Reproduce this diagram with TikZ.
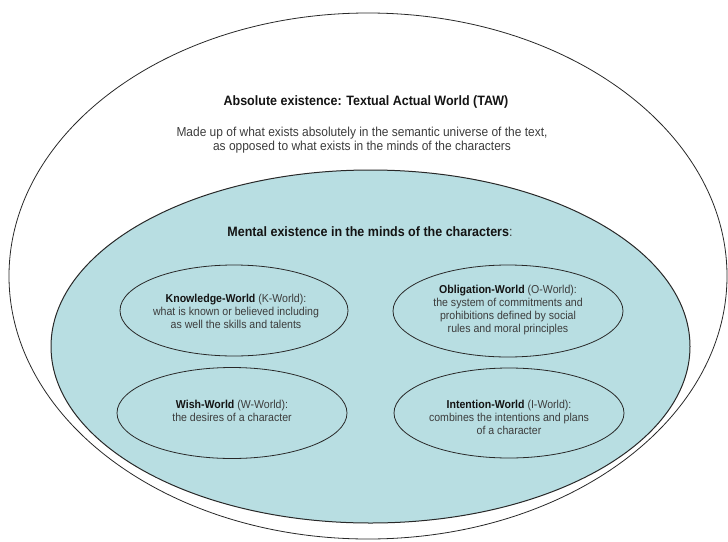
\documentclass[tikz,border=0pt]{standalone}
\usepackage{fontspec}
\setmainfont{Liberation Sans}[FakeStretch=0.92]
\usetikzlibrary{shapes.geometric}
\definecolor{tealfill}{RGB}{184,222,226}
\definecolor{edge}{RGB}{40,40,40}
\definecolor{bodytxt}{RGB}{60,60,60}
\definecolor{headtxt}{RGB}{20,20,20}
\tikzset{
  world/.style={ellipse, draw=edge, line width=0.8pt, inner sep=0pt},
  heading/.style={font=\fontsize{13.6}{16}\selectfont\bfseries, text=headtxt, inner sep=0pt},
  bodytext/.style={font=\fontsize{13}{14}\selectfont, text=bodytxt, align=center, inner sep=0pt},
  smalltext/.style={font=\fontsize{11.5}{13}\selectfont, text=bodytxt, align=center, inner sep=0pt},
}
\newcommand{\bw}[1]{{\bfseries\color{headtxt}#1}}
\begin{document}
\begin{tikzpicture}[x=1pt,y=-1pt]
\useasboundingbox (0,0) rectangle (728,541);
\node[world, minimum width=718pt, minimum height=526pt] (taw) at (368,276) {};
\node[world, fill=tealfill, line width=1pt, minimum width=639pt, minimum height=353pt] (mental) at (370.5,346.5) {};
\node[world, minimum width=228pt, minimum height=91pt] (kw) at (234,310.5) {};
\node[world, minimum width=230pt, minimum height=92pt] (ow) at (508,311) {};
\node[world, minimum width=230pt, minimum height=91pt] (ww) at (232,413) {};
\node[world, minimum width=230pt, minimum height=90pt] (iw) at (509,413) {};
\node[heading] (tawtitle) at (366,102) {Absolute existence: Textual Actual World (TAW)};
\node[bodytext] (tawbody) at (362,140) {Made up of what exists absolutely in the semantic universe of the text,\\as opposed to what exists in the minds of the characters};
\node[heading] (mtitle) at (370,232) {Mental existence in the minds of the characters{\mdseries\color{bodytxt}:}};
\node[smalltext] (ktext) at (236,311) {\bw{Knowledge-World} (K-World):\\what is known or believed including\\as well the skills and talents};
\node[smalltext] (otext) at (508,310.5) {\bw{Obligation-World} (O-World):\\the system of commitments and\\prohibitions defined by social\\rules and moral principles};
\node[smalltext, anchor=north] (wtext) at (232,400) {\bw{Wish-World} (W-World):\\the desires of a character};
\node[smalltext, anchor=north] (itext) at (509,400) {\bw{Intention-World} (I-World):\\combines the intentions and plans\\of a character};
\end{tikzpicture}
\end{document}
